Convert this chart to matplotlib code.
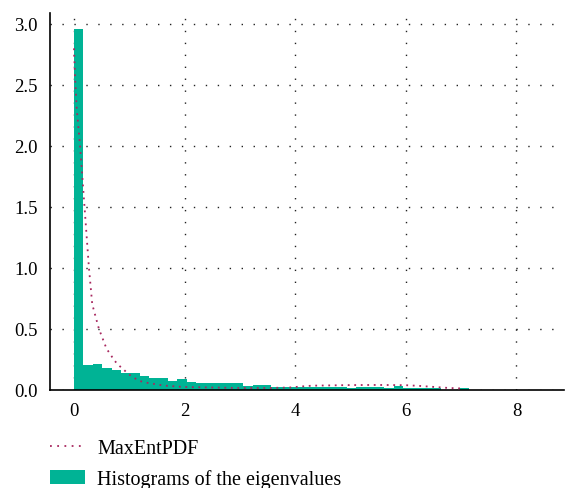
import numpy as np
import matplotlib
matplotlib.use("Agg")
import matplotlib.pyplot as plt
from matplotlib.lines import Line2D
from matplotlib.patches import Patch

# histogram of eigenvalues (density), bin width 0.17 starting at 0
bin_width = 0.17
hist_heights = [2.96, 0.20, 0.214, 0.18, 0.164, 0.14, 0.14, 0.115, 0.10, 0.10,
                0.074, 0.09, 0.066, 0.057, 0.057, 0.057, 0.057, 0.057, 0.033, 0.041,
                0.041, 0.025, 0.025, 0.025, 0.025, 0.025, 0.025, 0.025, 0.025, 0.016,
                0.025, 0.025, 0.025, 0.016, 0.03, 0.016, 0.016, 0.016, 0.016, 0.0,
                0.0, 0.016]

# MaxEntPDF curve
pdf_x = [0.0, 0.02, 0.05, 0.11, 0.19, 0.27, 0.33, 0.45, 0.59, 0.66, 0.72, 0.81,
         0.90, 0.98, 1.09, 1.19, 1.32, 1.45, 1.55, 1.68, 1.81, 1.92, 2.1, 2.5,
         3.0, 3.5, 3.9, 4.1, 4.3, 5.0, 5.5, 6.0, 6.25, 6.5, 6.75, 7.0, 7.05]
pdf_y = [2.8, 2.55, 2.3, 2.0, 1.5, 1.0, 0.7, 0.5, 0.334, 0.29, 0.244, 0.2,
         0.164, 0.13, 0.096, 0.071, 0.057, 0.047, 0.039, 0.032, 0.028, 0.024, 0.021, 0.018,
         0.014, 0.014, 0.018, 0.026, 0.033, 0.038, 0.039, 0.037, 0.031, 0.023, 0.015, 0.01, 0.008]

x_ticks = [0, 2, 4, 6, 8]
y_ticks = [0.0, 0.5, 1.0, 1.5, 2.0, 2.5, 3.0]

bar_color = "#00b395"
curve_color = "#a8285f"

plt.rcParams['font.family'] = ['Liberation Serif', 'DejaVu Serif']

fig = plt.figure(figsize=(5.68, 4.89), dpi=100)
ax = fig.add_axes([50 / 568, 1 - 390.7 / 489, 514 / 568, (390.7 - 14) / 489])

edges = np.arange(len(hist_heights)) * bin_width
ax.bar(edges, hist_heights, width=bin_width, align="edge", color=bar_color,
       linewidth=0, zorder=2)
ax.plot(pdf_x, pdf_y, color=curve_color, lw=1.3, linestyle=(0, (1, 2.6)), zorder=3)

ax.set_xlim(-0.434, 8.86)
ax.set_ylim(0, 3.09)
ax.set_xticks(x_ticks)
ax.set_xticklabels([str(t) for t in x_ticks])
ax.set_yticks(y_ticks)
ax.set_yticklabels([f"{t:.1f}" for t in y_ticks])
ax.tick_params(length=0, labelsize=13.5, colors="black")
ax.tick_params(axis="y", pad=9)
ax.tick_params(axis="x", pad=9)

ax.grid(True, color="#222222", linestyle=(0, (1, 7.6)), linewidth=1.0, zorder=1)
ax.set_axisbelow(True)

for s in ["top", "right"]:
    ax.spines[s].set_visible(False)
ax.spines["left"].set_linewidth(1.2)
ax.spines["bottom"].set_linewidth(1.2)

handles = [
    Line2D([0], [0], color=curve_color, lw=1.3, linestyle=(0, (1, 3))),
    Patch(facecolor=bar_color, edgecolor="none"),
]
labels = ["MaxEntPDF", "Histograms of the eigenvalues"]
fig.legend(handles, labels, loc="upper left", bbox_to_anchor=(50 / 568, 1 - 440 / 489),
           frameon=False, fontsize=14.5, borderpad=0, borderaxespad=0,
           handlelength=1.75, handletextpad=0.6, labelspacing=0.55)

fig.savefig("out.png", dpi=100)
